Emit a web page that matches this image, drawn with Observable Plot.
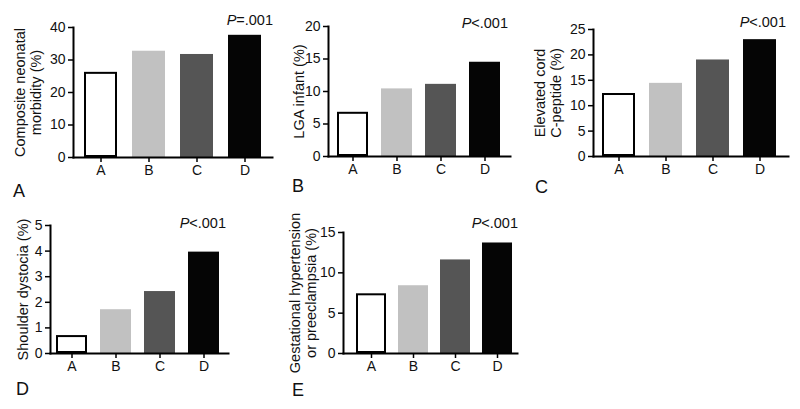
<!DOCTYPE html>
<html><head><meta charset="utf-8">
<script src="https://cdn.jsdelivr.net/npm/d3@7"></script>
<script src="https://cdn.jsdelivr.net/npm/@observablehq/plot@0.6"></script>
<style>
body{margin:0;background:#fff;}
#chart{position:relative;width:800px;height:409px;font-family:"Liberation Sans",Arial,sans-serif;overflow:hidden;}
#chart svg{position:absolute;left:0;top:0;}
.pv,.lt{position:absolute;line-height:1;white-space:nowrap;color:#111;}
.pv{font-size:14.5px;}
.lt{font-size:18px;}
</style></head><body><div id="chart"></div>
<script>
// ---- data ----
const groups = ["A", "B", "C", "D"];
const compositeMorbidity = [26.2, 32.7, 31.7, 37.6];
const lgaInfant = [6.8, 10.4, 11.1, 14.5];
const cordCPeptide = [12.4, 14.4, 19.0, 23.0];
const shoulderDystocia = [0.70, 1.71, 2.42, 3.96];
const hypertension = [7.4, 8.4, 11.6, 13.7];
const barColors = ["#ffffff", "#c1c1c1", "#555555", "#050505"];

const panelLetters = ["A", "B", "C", "D", "E"];
const yLabels = [
  "Composite neonatal\nmorbidity (%)",
  "LGA infant (%)",
  "Elevated cord\nC-peptide (%)",
  "Shoulder dystocia (%)",
  "Gestational hypertension\nor preeclampsia (%)"
];
const pLabels = ["=.001", "<.001", "<.001", "<.001", "<.001"];
const yTicks = [
  [0, 10, 20, 30, 40],
  [0, 5, 10, 15, 20],
  [0, 5, 10, 15, 20, 25],
  [0, 1, 2, 3, 4, 5],
  [0, 5, 10, 15]
];
const seriesList = [compositeMorbidity, lgaInfant, cordCPeptide, shoulderDystocia, hypertension];

// ---- layout (frame boxes in page pixels) ----
const W = 800, H = 409;
const layout = [
  {x0: 73,  x1: 272, y0: 27,  y1: 157, lab: 13,  pi: 0.31, po: 0.20,  al: 0.5,  pv: {r: 273, b: 25},  lt: {l: 13,  b: 197}},
  {x0: 328, x1: 510, y0: 26,  y1: 156, lab: 292, pi: 0.29, po: 0.176, al: 0.5,  pv: {r: 508, b: 28},  lt: {l: 292, b: 192}},
  {x0: 593, x1: 788, y0: 29,  y1: 156, lab: 533, pi: 0.29, po: 0.185, al: 0.42, pv: {r: 786, b: 27},  lt: {l: 535, b: 193}},
  {x0: 50,  x1: 228, y0: 225, y1: 353, lab: 16,  pi: 0.29, po: 0.145, al: 0.44, pv: {r: 226, b: 228}, lt: {l: 16,  b: 395}},
  {x0: 343, x1: 517, y0: 232, y1: 353, lab: 288, pi: 0.28, po: 0.197, al: 0.71, pv: {r: 518, b: 228}, lt: {l: 292, b: 396}}
];

const chart = document.getElementById("chart");
const font = '"Liberation Sans", Arial, sans-serif';

seriesList.forEach((values, i) => {
  const L = layout[i];
  const data = groups.map((g, j) => ({group: g, value: values[j]}));
  const ticks = yTicks[i];
  const svg = Plot.plot({
    width: W, height: H,
    marginLeft: L.x0, marginRight: W - L.x1, marginTop: L.y0, marginBottom: H - L.y1,
    style: {background: "transparent", overflow: "visible", fontFamily: font, color: "#111"},
    x: {domain: groups, paddingInner: L.pi, paddingOuter: L.po, align: L.al, axis: null},
    y: {domain: [0, ticks[ticks.length - 1]], axis: null},
    color: {domain: groups, range: barColors},
    marks: [
      Plot.barY(data, {x: "group", y: "value", fill: "group"}),
      Plot.barY(data, {filter: d => d.group === "A", x: "group", y: "value", fill: "none", stroke: "#000", strokeWidth: 2, inset: 1}),
      Plot.axisY({ticks, tickFormat: d => String(d), tickSize: 5, tickPadding: 3, fontSize: 14, label: null, strokeWidth: 1.5, stroke: "#000"}),
      Plot.axisX({tickSize: 5, tickPadding: 3, fontSize: 14, label: null, strokeWidth: 1.5, stroke: "#000"}),
      Plot.frame({anchor: "left", stroke: "#000", strokeWidth: 2}),
      Plot.frame({anchor: "bottom", stroke: "#000", strokeWidth: 2}),
      Plot.text([yLabels[i]], {text: d => d, frameAnchor: "left", rotate: -90, dx: -(L.x0 - L.lab),
        lineAnchor: "top", textAnchor: "middle", fontSize: 14.5, lineHeight: 1.1, fill: "#111"})
    ]
  });
  chart.appendChild(svg);

  const pv = document.createElement("div");
  pv.className = "pv";
  pv.style.right = (W - L.pv.r) + "px";
  pv.style.top = (L.pv.b - 12.3) + "px";
  pv.innerHTML = "<i>P</i>" + pLabels[i].replace("<", "&lt;");
  chart.appendChild(pv);

  const lt = document.createElement("div");
  lt.className = "lt";
  lt.style.left = L.lt.l + "px";
  lt.style.top = (L.lt.b - 15.2) + "px";
  lt.textContent = panelLetters[i];
  chart.appendChild(lt);
});
</script>
</body></html>
